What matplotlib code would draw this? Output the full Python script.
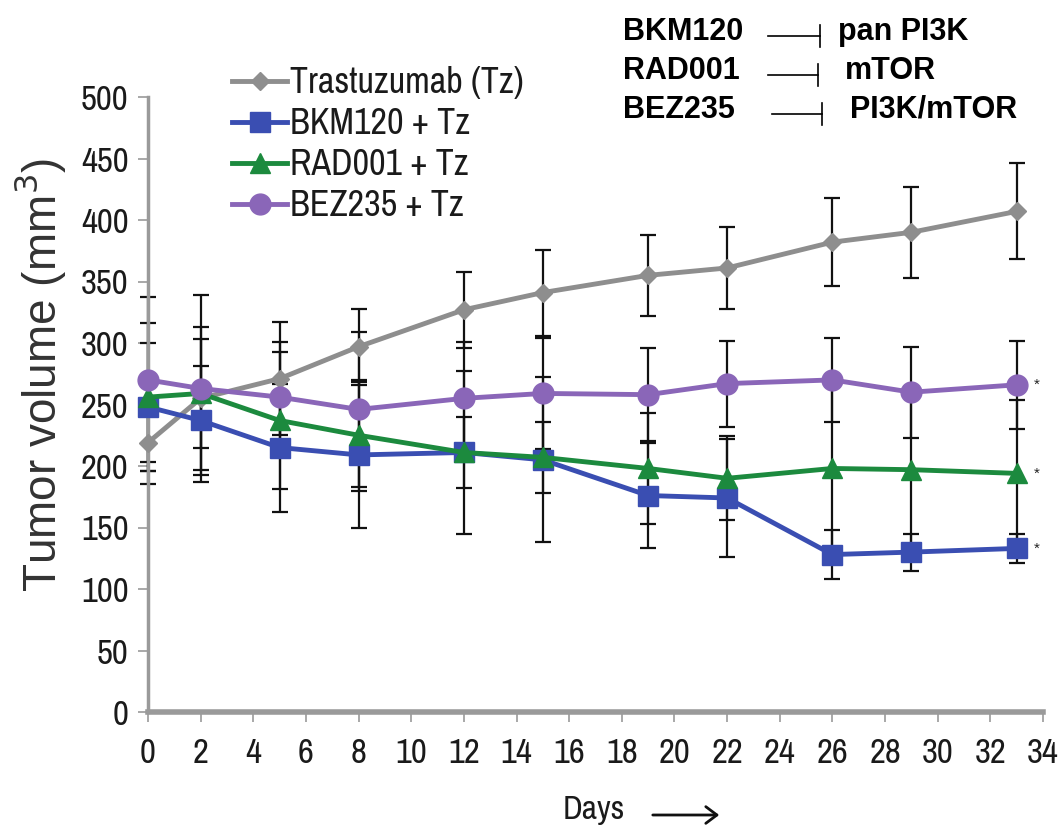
import matplotlib
matplotlib.use("Agg")
import matplotlib.pyplot as plt
from matplotlib.lines import Line2D
from matplotlib.patches import FancyArrowPatch

# ---- data ----
days = [0, 2, 5, 8, 12, 15, 19, 22, 26, 29, 33]
tz = [219, 255, 271, 297, 327, 341, 355, 361, 382, 390, 407]
tz_err = [34, 58, 46, 31, 31, 35, 33, 33, 36, 37, 39]
bkm = [248, 237, 215, 209, 211, 205, 176, 174, 128, 130, 133]
bkm_err = [52, 44, 52, 59, 66, 67, 43, 48, 20, 15, 12]
rad = [256, 259, 237, 225, 211, 207, 198, 190, 198, 197, 194]
rad_err = [60, 44, 56, 45, 29, 29, 45, 34, 70, 67, 60]
bez = [270, 263, 256, 246, 255, 259, 258, 267, 270, 260, 266]
bez_err = [67, 76, 45, 63, 46, 45, 38, 35, 34, 37, 36]
labels = ["Trastuzumab (Tz)", "BKM120 + Tz", "RAD001 + Tz", "BEZ235 + Tz"]
xticks = list(range(0, 35, 2))
yticks = list(range(0, 501, 50))
drugs = ["BKM120", "RAD001", "BEZ235"]
targets = ["pan PI3K", "mTOR", "PI3K/mTOR"]

NARROW = ["Archivo Narrow", "Liberation Sans", "DejaVu Sans"]
REG = ["Liberation Sans", "DejaVu Sans"]

W, H = 1063, 827
fig = plt.figure(figsize=(W / 100, H / 100), dpi=100)
ax = fig.add_axes([148 / W, 1 - 712 / H, (1043 - 148) / W, (712 - 97) / H])

colors = ["#8e8e8e", "#3a4eb2", "#1c8a3e", "#8a66b8"]
markers = ["D", "s", "^", "o"]
msizes = [9, 15, 14, 15]
series = [(tz, tz_err), (bkm, bkm_err), (rad, rad_err), (bez, bez_err)]

for (vals, errs) in series:
    ax.errorbar(days, vals, yerr=errs, fmt="none", ecolor="#111111",
                elinewidth=1.6, capsize=6, capthick=1.6, zorder=2, clip_on=False)

handles = []
for (vals, errs), c, m, ms, lab in zip(series, colors, markers, msizes, labels):
    ln, = ax.plot(days, vals, color=c, lw=3.5, marker=m, ms=ms,
                  markeredgecolor=c, label=lab, zorder=3, clip_on=False)
    handles.append(ln)

for vals in (bez, rad, bkm):
    ax.text(33.65, vals[-1], "*", fontsize=11, ha="left", va="center",
            color="#222222", family=REG)

ax.set_xlim(0, 34)
ax.set_ylim(0, 500)
ax.set_xticks(xticks)
ax.set_yticks(yticks)
ax.set_xticklabels([str(t) for t in xticks], family=NARROW, fontsize=25, color="#1a1a1a")
ax.set_yticklabels([str(t) for t in yticks], family=NARROW, fontsize=25, color="#1a1a1a")
ax.tick_params(axis="both", direction="out", length=7, width=1.2, color="#9a9a9a")
ax.tick_params(axis="x", pad=11)
ax.tick_params(axis="y", pad=7)
for s in ("top", "right"):
    ax.spines[s].set_visible(False)
ax.spines["left"].set_color("#9a9a9a")
ax.spines["left"].set_linewidth(2.5)
ax.spines["bottom"].set_color("#9a9a9a")
ax.spines["bottom"].set_linewidth(4)

fig.text(40 / W, 1 - 375 / H, "Tumor volume (mm$^3$)", family=REG, fontsize=33,
         rotation=90, ha="center", va="center", color="#333333")
fig.text(594 / W, 1 - 810 / H, "Days", family=NARROW, fontsize=24,
         ha="center", va="center", color="#1a1a1a")
fig.add_artist(FancyArrowPatch((650 / W, 1 - 815 / H), (722 / W, 1 - 815 / H),
                               transform=fig.transFigure, arrowstyle="->,head_length=8,head_width=6",
                               lw=2, color="#111111"))

leg = ax.legend(handles=handles, loc="upper left", bbox_to_anchor=(70 / (1043 - 148), 1 + 45 / 615),
                frameon=False, prop={"family": NARROW, "size": 26}, handlelength=1.5,
                handletextpad=0.1, labelspacing=0.22, borderaxespad=0)
for t in leg.get_texts():
    t.set_color("#1a1a1a")

rows_y = [40, 79, 118]
line_x = [(768, 820), (768, 818), (772, 822)]
tx = [838, 845, 850]
for d, tg, y, (x0, x1), t in zip(drugs, targets, rows_y, line_x, tx):
    fig.text(623 / W, 1 - y / H, d, family=REG, fontweight="bold", fontsize=22,
             ha="left", va="baseline", color="black")
    fig.text(t / W, 1 - y / H, tg, family=REG, fontweight="bold", fontsize=22,
             ha="left", va="baseline", color="black")
    ly = y - 4
    fig.add_artist(Line2D([x0 / W, x1 / W], [1 - ly / H, 1 - ly / H],
                          transform=fig.transFigure, color="black", lw=1.2))
    fig.add_artist(Line2D([x1 / W, x1 / W], [1 - (ly - 11) / H, 1 - (ly + 11) / H],
                          transform=fig.transFigure, color="black", lw=1.2))

fig.savefig("out.png", dpi=100)
